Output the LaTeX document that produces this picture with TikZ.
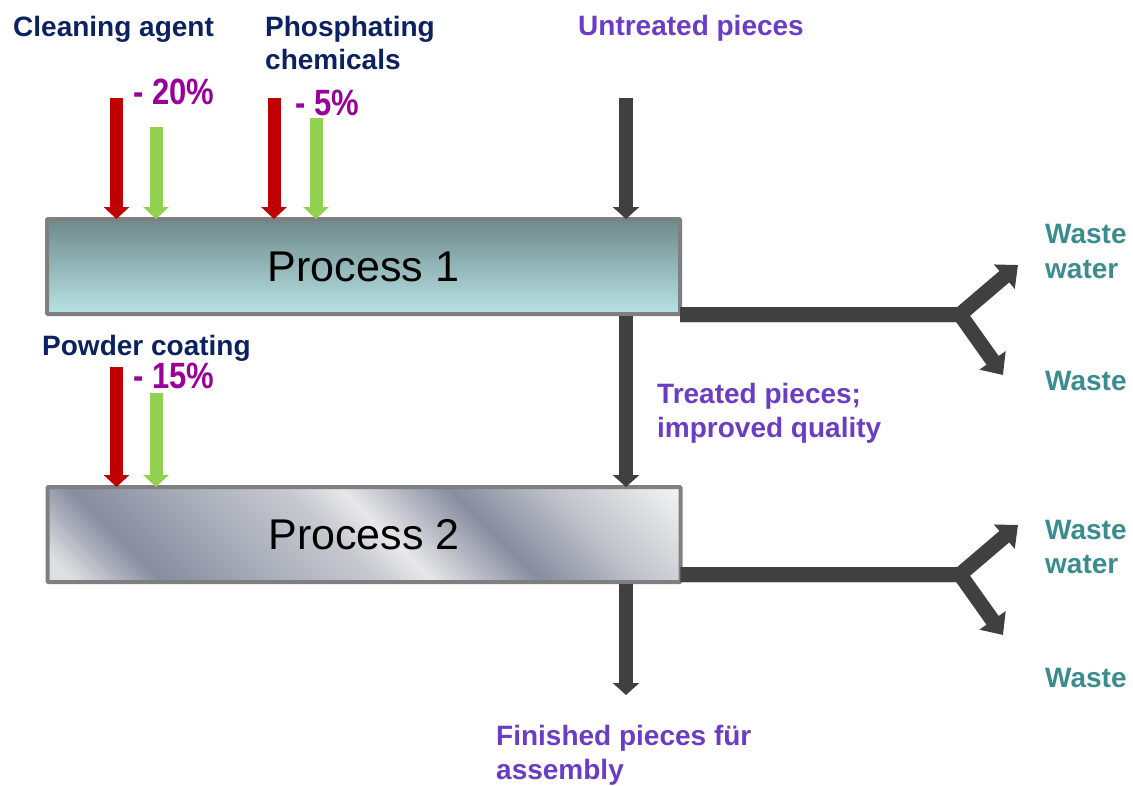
\documentclass[tikz,border=0pt]{standalone}
\usepackage{fontspec}
\setmainfont{Liberation Sans}
\usetikzlibrary{arrows.meta}
\definecolor{cRed}{HTML}{C00000}
\definecolor{cGreen}{HTML}{92D050}
\definecolor{cDark}{HTML}{404040}
\definecolor{cMag}{HTML}{990099}
\definecolor{cNavy}{HTML}{0C2160}
\definecolor{cPurple}{HTML}{6B3CC4}
\definecolor{cTeal}{HTML}{3A8C8E}
\definecolor{cBorder}{HTML}{7F7F7F}
\definecolor{pOneTop}{HTML}{6E898A}
\definecolor{pOneBot}{HTML}{B9E3E6}
\definecolor{mB}{HTML}{DEDFE2}
\definecolor{mD}{HTML}{878C9F}
\definecolor{mM}{HTML}{ABAFBB}
\definecolor{mLtwo}{HTML}{C8CAD0}
\definecolor{mL}{HTML}{E8E8EA}
\definecolor{mMtwo}{HTML}{C0C3CA}
\definecolor{mW}{HTML}{F5F5F5}
\pgfdeclarehorizontalshading{metalshade}{100bp}{color(0bp)=(mB); color(25bp)=(mB); color(27bp)=(mB); color(33bp)=(mD); color(41bp)=(mM); color(48bp)=(mLtwo); color(51.5bp)=(mL); color(59bp)=(mD); color(66bp)=(mMtwo); color(75bp)=(mW); color(100bp)=(mW)}
\newcommand{\pcttext}[1]{\scalebox{1}[1.18]{#1}}
\begin{document}
\begin{tikzpicture}[x=1pt,y=1pt,
  lab/.style={anchor=base west, inner sep=0pt, font=\bfseries\fontsize{28}{34}\selectfont},
  navylab/.style={lab, text=cNavy},
  purplab/.style={lab, text=cPurple},
  wastelab/.style={lab, text=cTeal},
  pct/.style={anchor=base west, inner sep=0pt, text=cMag, font=\bfseries\fontsize{31}{36}\selectfont},
  pbox/.style={draw=cBorder, line width=4pt, minimum width=633pt, minimum height=95pt, inner sep=0pt, outer sep=0pt, rounded corners=1pt, font=\fontsize{43}{50}\selectfont},
  inarrow/.style={line width=13pt, -{Triangle[width=25pt,length=12pt]}},
  redarrow/.style={inarrow, draw=cRed},
  greenarrow/.style={inarrow, draw=cGreen},
  flowarrow/.style={line width=14pt, draw=cDark, -{Triangle[width=26pt,length=12pt]}},
  wastearrow/.style={line width=15pt, draw=cDark, line join=miter, -{Triangle[width=31pt,length=18pt]}}
]
\useasboundingbox (0,0) rectangle (1133,-785);

% labels
\node[navylab] (lclean) at (13,-36) {Cleaning agent};
\node[navylab] (lphosA) at (265,-36) {Phosphating};
\node[navylab] (lphosB) at (265,-69) {chemicals};
\node[purplab] (luntr) at (578,-35) {Untreated pieces};
\node[pct] (pcA) at (133,-104) {\pcttext{- 20\%}};
\node[pct] (pcB) at (295,-115) {\pcttext{- 5\%}};
\node[navylab] (lpowder) at (42,-355) {Powder coating};
\node[pct] (pcC) at (133,-388) {\pcttext{- 15\%}};
\node[purplab] (ltreatA) at (657,-403) {Treated pieces;};
\node[purplab] (ltreatB) at (657,-437) {improved quality};
\node[purplab] (lfinA) at (496,-745) {Finished pieces für};
\node[purplab] (lfinB) at (496,-779) {assembly};
\node[wastelab] (wOneA) at (1045,-243) {Waste};
\node[wastelab] (wOneB) at (1045,-278) {water};
\node[wastelab] (wOneC) at (1045,-390) {Waste};
\node[wastelab] (wTwoA) at (1045,-539) {Waste};
\node[wastelab] (wTwoB) at (1045,-573) {water};
\node[wastelab] (wTwoC) at (1045,-687) {Waste};

% process 1
\node[pbox, top color=pOneTop, bottom color=pOneBot] (p1) at (363.5,-266.5) {Process 1};

% process 2 metallic fill
\begin{scope}
  \clip (48,-582) rectangle (680,-487);
  \begin{scope}[transform canvas={rotate around={45:(364,-534.5)}}]
    \shade[shading=metalshade] (106,-792.5) rectangle (622,-276.5);
  \end{scope}
\end{scope}
\node[pbox] (p2) at (364,-534.5) {Process 2};

% free ends
\coordinate (r1) at (116.5,-98);
\coordinate (g1) at (156,-127);
\coordinate (r2) at (274,-98);
\coordinate (g2) at (316,-118);
\coordinate (u1) at (626,-98);
\coordinate (r3) at (116.5,-367);
\coordinate (g3) at (156,-393);
\coordinate (fin) at (626,-695);
\coordinate (j1) at (960,-314.5);
\coordinate (t1u) at (1018,-265);
\coordinate (t1d) at (1003,-375);
\coordinate (j2) at (960,-574.5);
\coordinate (t2u) at (1018,-525);
\coordinate (t2d) at (1003,-635);

% input arrows
\draw[redarrow] (r1) -- (r1 |- p1.north);
\draw[greenarrow] (g1) -- (g1 |- p1.north);
\draw[redarrow] (r2) -- (r2 |- p1.north);
\draw[greenarrow] (g2) -- (g2 |- p1.north);
\draw[redarrow] (r3) -- (r3 |- p2.north);
\draw[greenarrow] (g3) -- (g3 |- p2.north);

% main flow
\draw[flowarrow] (u1) -- (u1 |- p1.north);
\draw[flowarrow] ([yshift=-2pt]u1 |- p1.south) -- (u1 |- p2.north);
\draw[flowarrow] ([yshift=-2pt]u1 |- p2.south) -- (fin);

% waste
\draw[wastearrow] (p1.east |- j1) -- (j1) -- (t1u);
\draw[wastearrow] (p1.east |- j1) -- (j1) -- (t1d);
\draw[wastearrow] (p2.east |- j2) -- (j2) -- (t2u);
\draw[wastearrow] (p2.east |- j2) -- (j2) -- (t2d);
\end{tikzpicture}
\end{document}
